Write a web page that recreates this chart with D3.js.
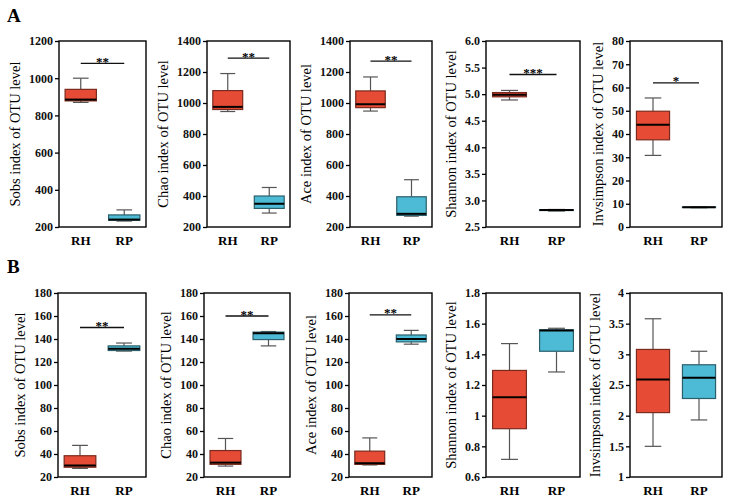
<!DOCTYPE html>
<html><head><meta charset="utf-8">
<script src="https://cdn.jsdelivr.net/npm/d3@7"></script>
<style>body{margin:0;background:#fff;} svg{display:block;}</style>
</head><body>
<svg id="c" width="731" height="498"></svg>
<script>
// ---- data ----
const groups = ["RH", "RP"];
const titles = ["Sobs index of OTU level","Chao index of OTU level","Ace index of OTU level","Shannon index of OTU level","Invsimpson index of OTU level"];
// each stat: [min, q1, median, q3, max]
const rowA_RH = [[870,878,885,940,1000],[945,958,975,1080,1190],[948,970,992,1078,1168],[4.89,4.95,4.99,5.03,5.07],[30.8,37.5,44,49.8,55.5]];
const rowA_RP = [[232,236,240,265,292],[290,320,350,400,455],[270,275,285,395,505],[2.80,2.81,2.82,2.825,2.83],[8.3,8.4,8.5,8.6,8.7]];
const rowB_RH = [[27.5,28.5,30,38.5,47.5],[29.5,31,32.5,43,53.5],[30.5,31,32,42.5,54],[0.715,0.915,1.12,1.295,1.47],[1.5,2.05,2.59,3.08,3.58]];
const rowB_RP = [[129.5,130,131.5,134,136.5],[134,139.5,145,146,146.5],[135.5,137.5,140,143.5,147.5],[1.285,1.42,1.555,1.56,1.57],[1.93,2.28,2.62,2.83,3.05]];
const domainsA = [[200,1200],[200,1400],[200,1400],[2.5,6.0],[0,80]];
const domainsB = [[20,180],[20,180],[20,180],[0.6,1.8],[1,4]];
const ticksA = [[200,400,600,800,1000,1200],[200,400,600,800,1000,1200,1400],[200,400,600,800,1000,1200,1400],[2.5,3.0,3.5,4.0,4.5,5.0,5.5,6.0],[0,10,20,30,40,50,60,70,80]];
const ticksB = [[20,40,60,80,100,120,140,160,180],[20,40,60,80,100,120,140,160,180],[20,40,60,80,100,120,140,160,180],[0.6,0.8,1,1.2,1.4,1.6,1.8],[1,1.5,2,2.5,3,3.5,4]];
const tickFmtA = ["d","d","d",".1f","d"];
const tickFmtB = ["d","d","d","","" ];
const sigA = [[1080,"**"],[1290,"**"],[1270,"**"],[5.37,"***"],[62,"*"]];
const sigB = [[150,"**"],[160,"**"],[161,"**"],null,null];

// ---- layout ----
const leftsA = [59, 207, 350, 486, 630];
const leftsB = [58, 204, 349, 486, 630];
const rights = [146, 290, 432, 580, 722];
const rowTop = [41, 293], rowBot = [227, 477];
const colors = {RH:"#E64B35", RP:"#4DBBD5"};
const strokes = {RH:"#7a2a1e", RP:"#2b5f6b"};
const FONT = "'Liberation Serif','Times New Roman',serif";

const svg = d3.select("#c");
svg.append("text").attr("x",7).attr("y",22).text("A").attr("font-family",FONT).attr("font-weight","bold").attr("font-size",19);
svg.append("text").attr("x",7).attr("y",273).text("B").attr("font-family",FONT).attr("font-weight","bold").attr("font-size",19);

function panel(r, i, rh, rp, dom, ticks, fmt, sig){
  const L = (r===0?leftsA:leftsB)[i], R = rights[i], T = rowTop[r], B = rowBot[r];
  const y = d3.scaleLinear().domain(dom).range([B, T]);
  const x = d3.scalePoint().domain(groups).range([L, R]).padding(0.5);
  const bw = (R - L) * 0.36;
  const g = svg.append("g");
  // axis
  const ax = d3.axisLeft(y).tickValues(ticks).tickSize(4).tickSizeOuter(0);
  if (fmt) ax.tickFormat(d3.format(fmt)); else ax.tickFormat(d => String(+d.toFixed(2)));
  const axg = g.append("g").attr("transform",`translate(${L},0)`).call(ax);
  axg.select(".domain").remove();
  axg.selectAll("line").attr("stroke","#000").attr("stroke-width",1.3);
  axg.selectAll("text").attr("font-family",FONT).attr("font-weight","bold").attr("font-size",12).attr("fill","#111").attr("x",-6);
  let maxW = 0; axg.selectAll("text").each(function(){maxW=Math.max(maxW,this.getBBox().width);});
  // frame
  g.append("rect").attr("x",L).attr("y",T).attr("width",R-L).attr("height",B-T).attr("fill","none").attr("stroke","#000").attr("stroke-width",1.4);
  // x labels
  groups.forEach(k=>{
    g.append("text").attr("x",x(k)).attr("y",B+18).attr("text-anchor","middle").attr("font-family",FONT).attr("font-weight","bold").attr("font-size",13).text(k);
  });
  // y title
  const cy = (T+B)/2, cx = L - 6 - maxW - 9;
  g.append("text").attr("transform",`translate(${cx},${cy}) rotate(-90)`).attr("text-anchor","middle").attr("font-family",FONT).attr("font-size",14.5).text(titles[i]);
  // boxes
  [["RH",rh],["RP",rp]].forEach(([k,s])=>{
    const cxk = x(k);
    g.append("line").attr("x1",cxk).attr("x2",cxk).attr("y1",y(s[4])).attr("y2",y(s[3])).attr("stroke","#555").attr("stroke-width",1.2);
    g.append("line").attr("x1",cxk).attr("x2",cxk).attr("y1",y(s[1])).attr("y2",y(s[0])).attr("stroke","#555").attr("stroke-width",1.2);
    [s[0],s[4]].forEach(v=>g.append("line").attr("x1",cxk-bw*0.25).attr("x2",cxk+bw*0.25).attr("y1",y(v)).attr("y2",y(v)).attr("stroke","#555").attr("stroke-width",1.2));
    g.append("rect").attr("x",cxk-bw/2).attr("width",bw).attr("y",y(s[3])).attr("height",Math.max(0.5,y(s[1])-y(s[3]))).attr("fill",colors[k]).attr("stroke",strokes[k]).attr("stroke-width",1.2);
    g.append("line").attr("x1",cxk-bw/2).attr("x2",cxk+bw/2).attr("y1",y(s[2])).attr("y2",y(s[2])).attr("stroke","#000").attr("stroke-width",2);
  });
  if (sig){
    const x1 = x("RH"), x2 = x("RP");
    g.append("line").attr("x1",x1).attr("x2",x2).attr("y1",y(sig[0])).attr("y2",y(sig[0])).attr("stroke","#111").attr("stroke-width",1.3);
    g.append("text").attr("x",(x1+x2)/2).attr("y",y(sig[0])+2.5).attr("text-anchor","middle").attr("font-family",FONT).attr("font-weight","bold").attr("font-size",13).text(sig[1]);
  }
}
for (let i=0;i<5;i++){
  panel(0,i,rowA_RH[i],rowA_RP[i],domainsA[i],ticksA[i],tickFmtA[i],sigA[i]);
  panel(1,i,rowB_RH[i],rowB_RP[i],domainsB[i],ticksB[i],tickFmtB[i],sigB[i]);
}
</script>
</body></html>
